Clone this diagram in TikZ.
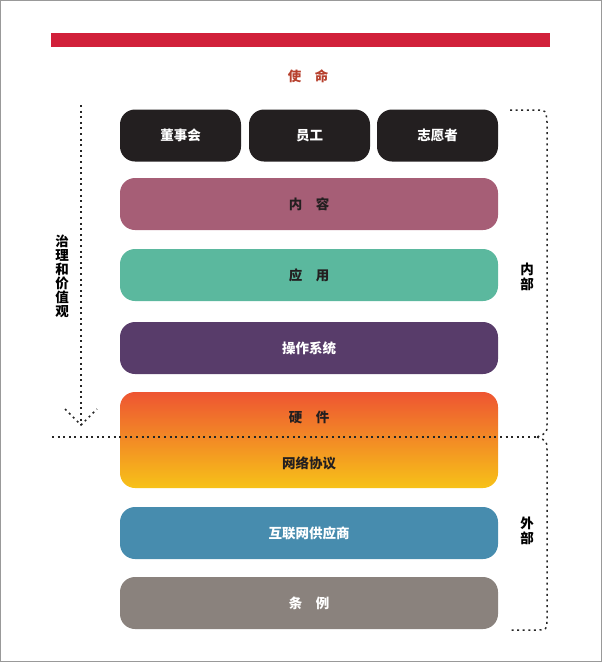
\documentclass[tikz,border=0pt]{standalone}
\usepackage{fontspec}
\newfontfamily\cjk{Noto Sans CJK SC}
\usetikzlibrary{positioning}

\definecolor{barred}{HTML}{D1203A}
\definecolor{missionred}{HTML}{B7412E}
\definecolor{boxblack}{HTML}{231F20}
\definecolor{contentrose}{HTML}{A65E76}
\definecolor{appgreen}{HTML}{5BB89E}
\definecolor{ospurple}{HTML}{583C6A}
\definecolor{hwtop}{HTML}{EE5532}
\definecolor{hwbottom}{HTML}{F7C218}
\definecolor{ispblue}{HTML}{478CAE}
\definecolor{lawgrey}{HTML}{8A827D}

\tikzset{
  layer/.style={rounded corners=15pt, minimum width=378pt, minimum height=52pt, inner sep=0pt},
  smallbox/.style={layer, minimum width=121pt, fill=boxblack},
  lbl/.style={font=\cjk\bfseries\fontsize{13.5}{16}\selectfont},
  dots/.style={line width=1.5pt, dash pattern=on 2pt off 3.6pt, black!85},
}

\begin{document}
\begin{tikzpicture}[x=1pt,y=-1pt]
\useasboundingbox (0,0) rectangle (602,662);
%frame and top bar
\draw[gray!80, line width=1.2pt] (0.6,0.6) rectangle (601.4,661.4);
\fill[barred] (51,33) rectangle (550,47);
\node[lbl, text=missionred] (mission) at (308,76) {使\quad 命};

%people
\node[smallbox, lbl, text=white] (board) at (180.5,135.5) {董事会};
\node[smallbox, lbl, text=white] (staff) at (309.5,135.5) {员工};
\node[smallbox, lbl, text=white] (volunteer) at (437.5,135.5) {志愿者};

%layers
\node[layer, fill=contentrose, lbl, text=boxblack] (content) at (309,204) {内\quad 容};
\node[layer, fill=appgreen, lbl, text=boxblack] (apps) at (309,275) {应\quad 用};
\node[layer, fill=ospurple, lbl, text=white] (os) at (309,348) {操作系统};
\node[layer, minimum height=96pt, top color=hwtop, bottom color=hwbottom] (hw) at (309,440) {};
\node[lbl, text=boxblack] (hwtext) at (309,417) {硬\quad 件};
\node[lbl, text=boxblack] (nettext) at (309,463) {网络协议};
\node[layer, fill=ispblue, lbl, text=white] (isp) at (309,533) {互联网供应商};
\node[layer, fill=lawgrey, lbl, text=white] (law) at (309,603) {条\quad 例};

%governance arrow
\coordinate (gtop) at (81,105);
\coordinate (gend) at (81,425);
\draw[dots] (gtop) -- (gend);
\draw[dots] (65,409) -- (gend) -- (97,409);
\node[lbl, align=center, font=\cjk\bfseries\fontsize{13.5}{14}\selectfont] (values) at (62,276) {治\\理\\和\\价\\值\\观};

%inside / outside split
\coordinate (tip) at (537,437);
\draw[dots] (52,437) -- (tip);
\draw[dots] (510,110) -- (535,110) .. controls (546,110) .. (547,122) -- (547,424) .. controls (547,433) .. (tip);
\draw[dots] (tip) .. controls (547,441) .. (547,450) -- (547,618) .. controls (547,630) .. (535,630) -- (510,630);
\node[lbl, align=center, font=\cjk\bfseries\fontsize{13.5}{15}\selectfont] (inner) at (527,277) {内\\部};
\node[lbl, align=center, font=\cjk\bfseries\fontsize{13.5}{15}\selectfont] (outer) at (527,531) {外\\部};
\end{tikzpicture}
\end{document}
